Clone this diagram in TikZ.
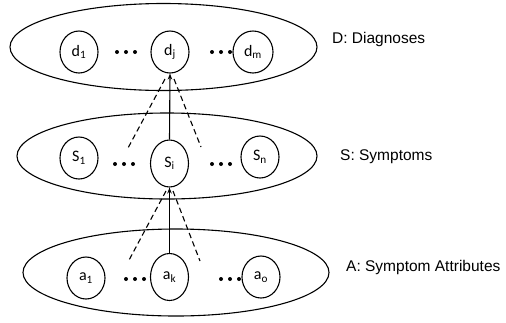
\documentclass[tikz,border=0pt]{standalone}
\usepackage{fontspec}
\setmainfont{Liberation Sans}
\newfontfamily\nodefont{Carlito}
\usetikzlibrary{shapes.geometric,arrows.meta}
\begin{document}
\begin{tikzpicture}[x=1pt,y=-1pt,
  layer/.style={draw,ellipse,line width=1.1pt,inner sep=0pt},
  var/.style={draw,ellipse,line width=1.1pt,inner sep=0pt,minimum width=38pt,minimum height=42pt,font=\nodefont\fontsize{16}{16}\selectfont},
  tall/.style={minimum height=47pt},
  lbl/.style={anchor=west,inner sep=0pt,font=\fontsize{15.5}{16}\selectfont},
  dep/.style={line width=1.1pt,-{Stealth[length=6pt,width=4.5pt]}},
  weak/.style={line width=1.1pt,dash pattern=on 5.5pt off 3.5pt},
  dot/.style={fill=black}]
\useasboundingbox (0,0) rectangle (506,322);

% layer outlines
\node[layer,minimum width=307pt,minimum height=87pt] (D) at (163.5,47) {};
\node[layer,minimum width=300pt,minimum height=86pt] (S) at (167,156) {};
\node[layer,minimum width=306pt,minimum height=87pt] (A) at (176,272.5) {};

% diagnoses
\node[var] (d1) at (79,52) {d\textsubscript{1}};
\node[var] (dj) at (170,52) {d\textsubscript{j}};
\node[var,minimum width=40pt] (dm) at (253,52) {d\textsubscript{m}};

% symptoms
\node[var] (s1) at (79,158) {S\textsubscript{1}};
\node[var,tall] (si) at (169.5,163.5) {S\textsubscript{i}};
\node[var] (sn) at (260,157) {S\textsubscript{n}};

% symptom attributes
\node[var] (a1) at (86,278) {a\textsubscript{1}};
\node[var,tall] (ak) at (169.5,277) {a\textsubscript{k}};
\node[var] (ao) at (261,277) {a\textsubscript{o}};

% ellipsis dots
\foreach \x in {117,126,135} {\fill[dot] (\x,52) circle (2pt);}
\foreach \x in {212,221,230} {\fill[dot] (\x,52) circle (2pt);}
\foreach \x in {115,124,133} {\fill[dot] (\x,164) circle (2pt);}
\foreach \x in {212,221,230} {\fill[dot] (\x,164) circle (2pt);}
\foreach \x in {126,135,144} {\fill[dot] (\x,279) circle (2pt);}
\foreach \x in {221,230,239} {\fill[dot] (\x,279) circle (2pt);}

% layer labels
\node[lbl] (Dl) at (332,39) {D: Diagnoses};
\node[lbl] (Sl) at (340,157) {S: Symptoms};
\node[lbl] (Al) at (346,267) {A: Symptom Attributes};

% dependencies
\coordinate (u1) at (165,79);
\coordinate (u2) at (174,79);
\coordinate (u3) at (128,148);
\coordinate (u4) at (201,147);
\draw[dep] (si.north) -- (dj.south);
\draw[weak] (u1) -- (u3);
\draw[weak] (u2) -- (u4);

\coordinate (v1) at (166,191);
\coordinate (v2) at (173,191);
\coordinate (v3) at (128,262);
\coordinate (v4) at (200,261);
\draw[dep] (ak.north) -- (si.south);
\draw[weak] (v1) -- (v3);
\draw[weak] (v2) -- (v4);
\end{tikzpicture}
\end{document}
